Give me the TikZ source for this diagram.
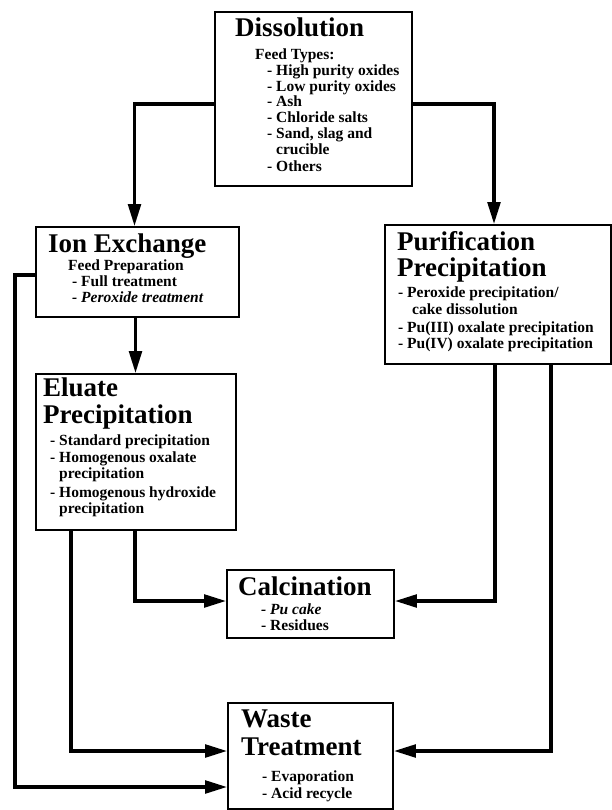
\documentclass[tikz,border=0pt]{standalone}
\usepackage{fontspec}
\setmainfont{Liberation Serif}
\usetikzlibrary{arrows.meta}
\tikzset{
  box/.style={draw, line width=1.6pt, rectangle, inner sep=0pt},
  ttl/.style={font=\bfseries\fontsize{27}{28}\selectfont, anchor=base west, inner sep=0pt},
  itm/.style={font=\bfseries\fontsize{15.5}{16}\selectfont, anchor=base west, inner sep=0pt},
  itmi/.style={font=\bfseries\itshape\fontsize{15.5}{16}\selectfont, anchor=base west, inner sep=0pt},
  flow/.style={line width=3.6pt, -{Triangle[length=22pt,width=12.5pt]}}
}
\begin{document}
\begin{tikzpicture}[x=1pt,y=-1pt]
\useasboundingbox (0,0) rectangle (612,810);
% boxes
\node[box, minimum width=197pt, minimum height=174pt] (diss) at (313.5,99) {};
\node[box, minimum width=203pt, minimum height=90pt] (ion) at (137.5,272) {};
\node[box, minimum width=200pt, minimum height=156pt] (elu) at (136,452) {};
\node[box, minimum width=226pt, minimum height=139pt] (pur) at (498,294.5) {};
\node[box, minimum width=167pt, minimum height=68pt] (calc) at (310.5,604) {};
\node[box, minimum width=165pt, minimum height=106pt] (waste) at (310.5,756) {};
% Dissolution text
\node[ttl] (d0) at (235,37) {Dissolution};
\node[itm] (d1) at (255,60) {Feed Types:};
\node[itm] (d2) at (267,76) {- High purity oxides};
\node[itm] (d3) at (267,92) {- Low purity oxides};
\node[itm] (d4) at (267,107) {- Ash};
\node[itm] (d5) at (267,123) {- Chloride salts};
\node[itm] (d6) at (267,139) {- Sand, slag and};
\node[itm] (d7) at (276,155) {crucible};
\node[itm] (d8) at (267,172) {- Others};
% Ion exchange text
\node[ttl] (i0) at (48,252) {Ion Exchange};
\node[itm] (i1) at (68,270) {Feed Preparation};
\node[itm] (i2) at (72,286) {- Full treatment};
\node[itmi] (i3) at (72,302) {- Peroxide treatment};
% Eluate text
\node[ttl] (e0) at (43,396) {Eluate};
\node[ttl] (e1) at (43,423) {Precipitation};
\node[itm] (e2) at (50,445) {- Standard precipitation};
\node[itm] (e3) at (50,462) {- Homogenous oxalate};
\node[itm] (e4) at (59,478) {precipitation};
\node[itm] (e5) at (50,497) {- Homogenous hydroxide};
\node[itm] (e6) at (59,513) {precipitation};
% Purification text
\node[ttl] (p0) at (397,250) {Purification};
\node[ttl] (p1) at (397,276) {Precipitation};
\node[itm] (p2) at (398,297) {- Peroxide precipitation/};
\node[itm] (p3) at (412,314) {cake dissolution};
\node[itm] (p4) at (398,332) {- Pu(III) oxalate precipitation};
\node[itm] (p5) at (398,348) {- Pu(IV) oxalate precipitation};
% Calcination text
\node[ttl] (c0) at (238,595) {Calcination};
\node[itmi] (c1) at (261,614) {- Pu cake};
\node[itm] (c2) at (261,630) {- Residues};
% Waste text
\node[ttl] (w0) at (241,727) {Waste};
\node[ttl] (w1) at (241,755) {Treatment};
\node[itm] (w2) at (262,781) {- Evaporation};
\node[itm] (w3) at (262,798) {- Acid recycle};
% connectors
\coordinate (lb) at (15,787);
\draw[flow] ([yshift=-5pt]diss.west) -| ([xshift=-3pt]ion.north);
\draw[flow] ([yshift=-5pt]diss.east) -| ([xshift=-4pt]pur.north);
\draw[flow] ([xshift=-2pt]ion.south) -- ([xshift=-2pt]ion.south |- elu.north);
\draw[flow] ([yshift=-3pt]ion.west) -| (lb) -- (lb -| waste.west);
\draw[flow] ([xshift=-1pt]elu.south) |- ([yshift=3pt]calc.west);
\draw[flow] ([xshift=-65pt]elu.south) |- ([yshift=5pt]waste.west);
\draw[flow] ([xshift=-3pt]pur.south) |- ([yshift=3pt]calc.east);
\draw[flow] ([xshift=53pt]pur.south) |- ([yshift=5pt]waste.east);
\end{tikzpicture}
\end{document}
